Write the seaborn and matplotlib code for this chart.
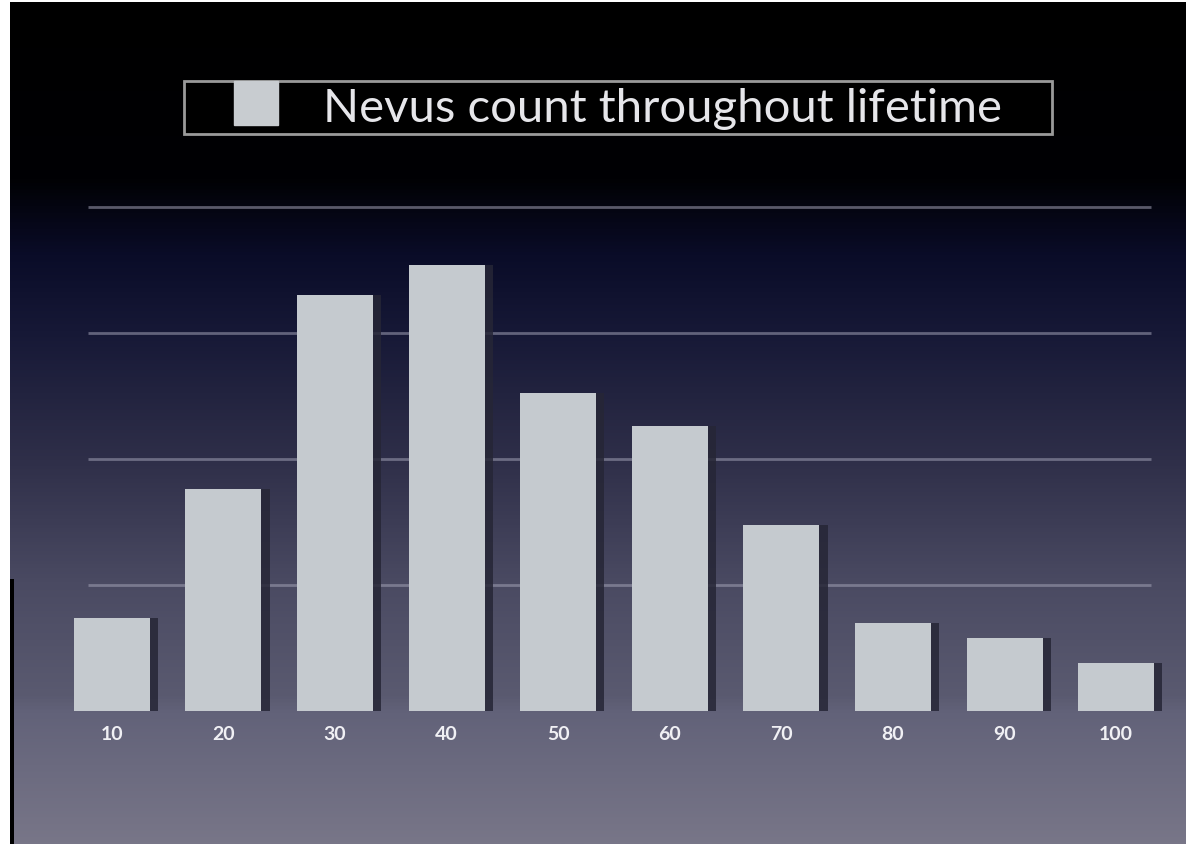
import numpy as np
import pandas as pd
import matplotlib.pyplot as plt
import matplotlib.patheffects as pe
from matplotlib.colors import LinearSegmentedColormap
from matplotlib.lines import Line2D
from matplotlib.patches import Rectangle
import seaborn as sns

sns.set_style("white")
plt.rcParams["font.family"] = ["Lato", "DejaVu Sans"]

# data (arbitrary units, gridlines every 5)
ages = ["10", "20", "30", "40", "50", "60", "70", "80", "90", "100"]
nevus_count = [3.7, 8.8, 16.5, 17.7, 12.6, 11.3, 7.4, 3.5, 2.9, 1.9]
grid_levels = [5, 10, 15, 20]
series_label = "Nevus count throughout lifetime"

df = pd.DataFrame({"Age": ages, "Count": nevus_count})

W, H = 1186, 845
fig = plt.figure(figsize=(W / 100, H / 100), dpi=100, facecolor="white")

# keynote style gradient background
bg = fig.add_axes([10 / W, 0, 1 - 10 / W, 1 - 3 / H])
stops = [
    (0.0, "#000000"),
    (0.21, "#010104"),
    (0.30, "#0a0c28"),
    (0.39, "#161836"),
    (0.545, "#2f2f49"),
    (0.69, "#4a4a62"),
    (0.825, "#5a5a70"),
    (0.845, "#626279"),
    (1.0, "#787688"),
]
cmap = LinearSegmentedColormap.from_list("slide", stops)
grad = np.linspace(0, 1, 512).reshape(-1, 1)
bg.imshow(grad, cmap=cmap, aspect="auto", extent=[0, 1, 0, 1], origin="upper")
bg.set_axis_off()
fig.patches.append(Rectangle((10 / W, 0), 4 / W, 265 / H, transform=fig.transFigure,
                             facecolor="black", edgecolor="none", zorder=5))

# chart area
ax = fig.add_axes([56 / W, 133 / H, 1116 / W, 562 / H])
ax.patch.set_alpha(0)

ax.hlines(grid_levels, -0.215, 9.31, color="#a0a0b4", alpha=0.55, lw=2, zorder=0)

sns.barplot(data=df, x="Age", y="Count", color="#c5cacf", saturation=1,
            width=0.68, linewidth=0, edgecolor="none", ax=ax, zorder=3)

for p in ax.patches:
    p.set_path_effects([
        pe.SimplePatchShadow(offset=(6, 0), shadow_rgbFace="#262636", alpha=0.85),
        pe.Normal(),
    ])

ax.set_xlim(-0.5, 9.5)
ax.set_ylim(0, 22.3)
ax.set_xlabel("")
ax.set_ylabel("")
ax.set_yticks([])
for s in ax.spines.values():
    s.set_visible(False)
ax.tick_params(axis="x", length=0, pad=10, labelsize=14, labelcolor="#f0f0f4")
for t in ax.get_xticklabels():
    t.set_fontweight("bold")

# legend box at the top
handle = Line2D([], [], marker="s", markersize=31.5, linestyle="none",
                color="#c8ccd0", markeredgecolor="#c8ccd0")
leg = fig.legend(
    [handle], [series_label],
    loc="lower left",
    bbox_to_anchor=(184 / W, (H - 135) / H, 868 / W, 55 / H),
    mode="expand",
    borderaxespad=0,
    fontsize=34,
    handlelength=2.84,
    handleheight=0.9,
    handletextpad=0.0,
    borderpad=0.1,
    fancybox=False,
    framealpha=1,
    facecolor="black",
    edgecolor="#9a9a9a",
    labelcolor="#e6e6ea",
)
leg.get_frame().set_linewidth(2)

plt.savefig("out.png", dpi=100)
